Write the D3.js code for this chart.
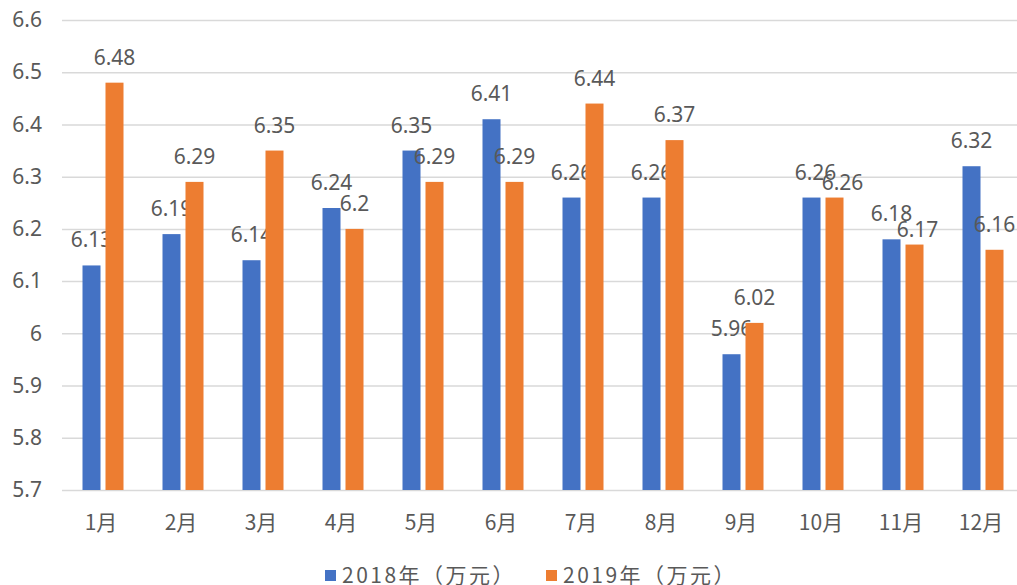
<!DOCTYPE html>
<html>
<head>
<meta charset="utf-8">
<script src="https://cdn.jsdelivr.net/npm/d3@7"></script>
<style>
  html, body { margin: 0; padding: 0; background: #fff; }
  svg { display: block; }
  text { font-family: "Noto Sans CJK SC", "Noto Sans", sans-serif; fill: #595959; }
</style>
</head>
<body>
<svg id="chart" width="1017" height="585"></svg>
<script>
// ---- data ----
const categories = ["1月","2月","3月","4月","5月","6月","7月","8月","9月","10月","11月","12月"];
const seriesNames = ["2018年（万元）", "2019年（万元）"];
const values2018 = [6.13, 6.19, 6.14, 6.24, 6.35, 6.41, 6.26, 6.26, 5.96, 6.26, 6.18, 6.32];
const values2019 = [6.48, 6.29, 6.35, 6.20, 6.29, 6.29, 6.44, 6.37, 6.02, 6.26, 6.17, 6.16];
const yTicks = [5.7, 5.8, 5.9, 6.0, 6.1, 6.2, 6.3, 6.4, 6.5, 6.6];

// ---- layout / style ----
const colors = ["#4472C4", "#ED7D31"];
const plot = { left: 63, right: 1023, top: 20, bottom: 490 };
// label nudges for overlapping labels "series-category" -> [dx, dy]
const labelNudge = { "0-9": [4, 0], "1-9": [8, 10], "1-10": [3, 10] };

const svg = d3.select("#chart");

const x = d3.scaleBand().domain(categories).range([plot.left, plot.right])
  .paddingInner(0.4875).paddingOuter(0.24375);
const xs = d3.scaleBand().domain([0, 1]).range([0, x.bandwidth()]).paddingInner(0.217);
const y = d3.scaleLinear().domain([5.7, 6.6]).range([plot.bottom, plot.top]);

// gridlines + y tick labels
const yAxis = d3.axisLeft(y).tickValues(yTicks).tickSize(-(plot.right - plot.left + 1))
  .tickFormat(d => String(+d.toFixed(1)));
const gy = svg.append("g").attr("transform", `translate(${plot.left - 1},0)`).call(yAxis);
gy.select(".domain").remove();
gy.selectAll(".tick line").attr("stroke", "#D9D9D9").attr("stroke-width", 1.5);
gy.selectAll(".tick text").attr("x", -20).attr("font-size", 21).attr("fill", "#595959")
  .style("font-family", "'Noto Sans', sans-serif");

// x axis labels
const xAxis = d3.axisBottom(x).tickSize(0).tickPadding(0);
const gx = svg.append("g").attr("transform", `translate(-2,${plot.bottom})`).call(xAxis);
gx.select(".domain").remove();
gx.selectAll(".tick text").attr("dy", "0").attr("y", 40).attr("font-size", 21).attr("fill", "#595959");

const series = [values2018, values2019];
series.forEach((vals, si) => {
  const g = svg.append("g");
  g.selectAll("rect").data(vals).join("rect")
    .attr("x", (d, i) => x(categories[i]) + xs(si))
    .attr("width", xs.bandwidth())
    .attr("y", d => y(d))
    .attr("height", d => y(5.7) - y(d))
    .attr("fill", colors[si]);
  g.selectAll("text").data(vals).join("text")
    .attr("x", (d, i) => x(categories[i]) + xs(si) + xs.bandwidth() / 2 + ((labelNudge[si + "-" + i] || [0, 0])[0]))
    .attr("y", (d, i) => y(d) - 18 + ((labelNudge[si + "-" + i] || [0, 0])[1]))
    .attr("text-anchor", "middle")
    .attr("font-size", 21)
    .attr("fill", "#404040")
    .style("font-family", "'Noto Sans', sans-serif")
    .text(d => String(+d.toFixed(2)));
});

// legend
const legend = svg.append("g");
const legendX = [325, 546];
seriesNames.forEach((name, i) => {
  legend.append("rect").attr("x", legendX[i]).attr("y", 570).attr("width", 11).attr("height", 11).attr("fill", colors[i]);
  legend.append("text").attr("x", legendX[i] + 17).attr("y", 583).attr("font-size", 21)
    .attr("letter-spacing", 2.5).attr("fill", "#595959").text(name);
});
</script>
</body>
</html>
